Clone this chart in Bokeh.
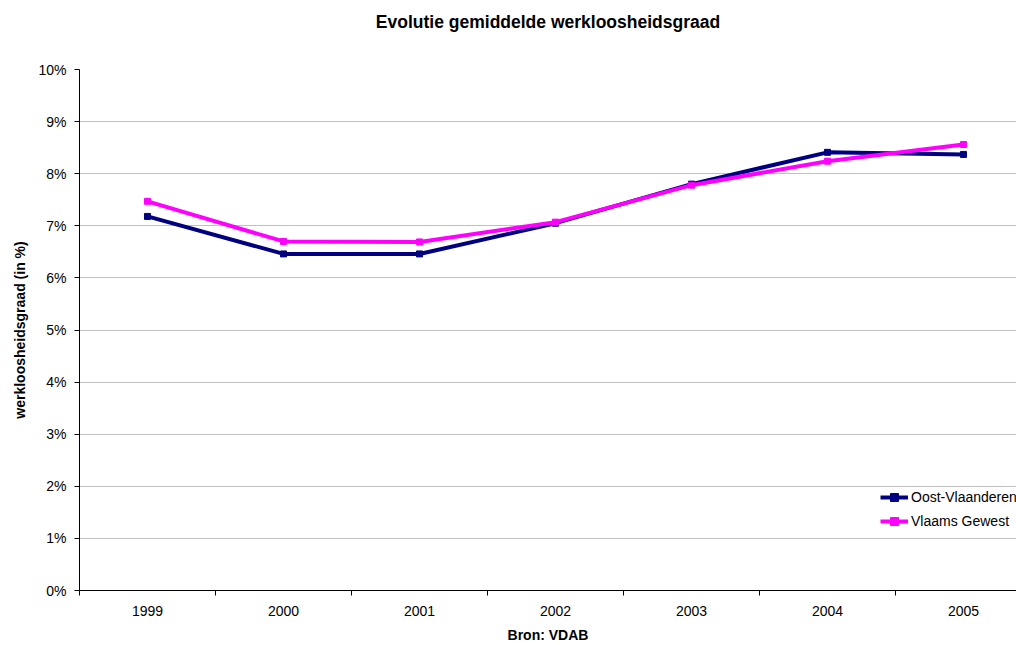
from bokeh.plotting import figure
from bokeh.models import (Range1d, FixedTicker, PrintfTickFormatter, Legend, LegendItem,
                          ColumnDataSource, LinearAxis)
from bokeh.embed import file_html
from bokeh.resources import INLINE

title_text = "Evolutie gemiddelde werkloosheidsgraad"
years = ["1999", "2000", "2001", "2002", "2003", "2004", "2005"]
oost_vlaanderen = [7.18, 6.46, 6.46, 7.05, 7.80, 8.41, 8.37]
vlaams_gewest = [7.47, 6.70, 6.69, 7.07, 7.78, 8.24, 8.56]
y_ticks = [0, 1, 2, 3, 4, 5, 6, 7, 8, 9, 10]

FONT = "Liberation Sans"
xs = list(range(len(years)))

p = figure(width=1016, height=645, output_backend="svg", toolbar_location=None,
           x_range=Range1d(-0.5, 6.39), y_range=Range1d(0, 10),
           min_border_left=79, min_border_right=0, min_border_top=69, min_border_bottom=54)
p.outline_line_color = None
p.background_fill_color = "white"
p.border_fill_color = "white"

xa = p.below[0]
ya = p.left[0]

# x axis
xa.ticker = FixedTicker(ticks=xs, minor_ticks=[i - 0.5 for i in range(len(years) + 1)])
xa.major_label_overrides = {i: y for i, y in enumerate(years)}
xa.major_tick_line_color = None
xa.minor_tick_in = 0
xa.minor_tick_out = 5
xa.minor_tick_line_color = "black"
xa.axis_line_color = "black"
xa.major_label_text_font = FONT
xa.major_label_text_font_size = "14px"
xa.major_label_text_color = "black"
xa.major_label_standoff = 9
xa.axis_label = "Bron: VDAB"
xa.axis_label_text_font = FONT
xa.axis_label_text_font_size = "14px"
xa.axis_label_text_font_style = "bold"
xa.axis_label_text_color = "black"
xa.axis_label_standoff = 8

# y axis
ya.ticker = FixedTicker(ticks=y_ticks, minor_ticks=[])
ya.formatter = PrintfTickFormatter(format="%d%%")
ya.major_tick_in = 0
ya.major_tick_out = 5
ya.major_tick_line_color = "black"
ya.minor_tick_line_color = None
ya.axis_line_color = "black"
ya.major_label_text_font = FONT
ya.major_label_text_font_size = "14px"
ya.major_label_text_color = "black"
ya.major_label_standoff = 8
ya.axis_label = "werkloosheidsgraad (in %)"
ya.axis_label_text_font = FONT
ya.axis_label_text_font_size = "14px"
ya.axis_label_text_font_style = "bold"
ya.axis_label_text_color = "black"
ya.axis_label_standoff = 7

# chart title, drawn as the label of a bare axis above the frame
title_axis = LinearAxis(axis_label=title_text, ticker=FixedTicker(ticks=[], minor_ticks=[]),
                        axis_line_color=None, major_tick_line_color=None,
                        minor_tick_line_color=None, major_tick_out=0, major_tick_in=0,
                        minor_tick_out=0, minor_tick_in=0, major_label_standoff=0,
                        major_label_text_font_size="0px", axis_label_standoff=38,
                        axis_label_text_font=FONT, axis_label_text_font_size="17.5px",
                        axis_label_text_font_style="bold", axis_label_text_color="black")
p.add_layout(title_axis, "above")

p.xgrid.grid_line_color = None
p.ygrid.grid_line_color = "#c0c0c0"
p.ygrid.ticker = FixedTicker(ticks=y_ticks)

src = ColumnDataSource(dict(x=xs, ov=oost_vlaanderen, vg=vlaams_gewest))

l1 = p.line("x", "ov", source=src, line_color="#000080", line_width=4)
m1 = p.scatter("x", "ov", source=src, marker="square", size=6, fill_color="#000080",
               line_color="#000080")
l2 = p.line("x", "vg", source=src, line_color="#ff00ff", line_width=4)
m2 = p.scatter("x", "vg", source=src, marker="square", size=6, fill_color="#ff00ff",
               line_color="#ff00ff")

legend = Legend(items=[LegendItem(label="Oost-Vlaanderen", renderers=[l1, m1]),
                       LegendItem(label="Vlaams Gewest", renderers=[l2, m2])],
                location=(801, 59), padding=0, margin=0, spacing=4,
                glyph_width=28, glyph_height=20, label_height=20, label_standoff=3,
                border_line_color=None, background_fill_alpha=0,
                label_text_font=FONT, label_text_font_size="14px",
                label_text_color="black")
p.add_layout(legend)

open("out.html", "w").write(file_html(p, INLINE))
